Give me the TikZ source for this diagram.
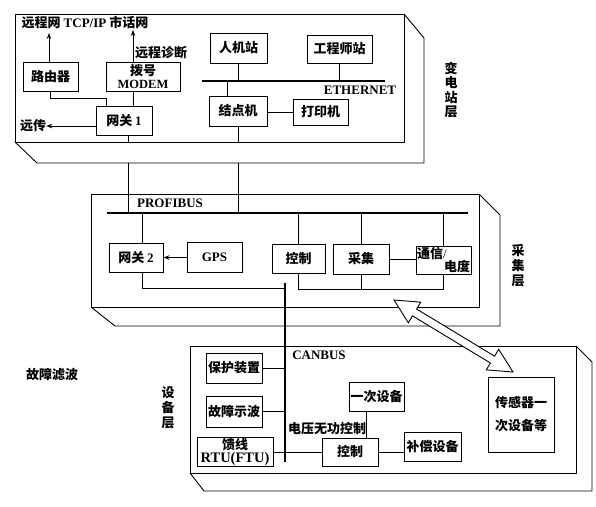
\documentclass[tikz,border=0pt]{standalone}
\usepackage{fontspec}
\setmainfont{Noto Sans CJK SC}
\newfontfamily\latf{Liberation Serif}
\usetikzlibrary{calc,arrows.meta}
\begin{document}
\begin{tikzpicture}[x=1pt,y=-1pt,
  font=\bfseries\fontsize{13}{14}\selectfont,
  every node/.style={inner sep=0.5pt},
  bx/.style 2 args={draw, line width=0.9pt, inner sep=0.5pt, align=center, minimum width=#1, minimum height=#2},
  layer/.style={line width=0.9pt},
  conn/.style={line width=0.8pt},
  bus/.style={line width=2.2pt},
  arr/.style={conn, -{Stealth[length=6pt,width=4.5pt]}},
  vlab/.style={align=center, inner sep=0pt},
  txt/.style={inner sep=0pt},
  lat/.style={font=\latf\bfseries\fontsize{13}{13}\selectfont}]
\useasboundingbox (0,0) rectangle (596,506);

% ---------- layer outlines ----------
\draw[layer] (15,14) rectangle (404,142);
\draw[layer] (15,142) -- (37,163) -- (424,163) -- (424,38) -- (404,14);
\draw[layer] (91,194) rectangle (479,307);
\draw[layer] (91,307) -- (115,326) -- (500,326) -- (500,215) -- (479,194);
\draw[layer] (190,346) rectangle (576,473);
\draw[layer] (190,473) -- (204,491) -- (592,491) -- (592,362) -- (576,346);

% ---------- top layer ----------
\node[bx={55pt}{29pt}] (router) at (50.5,76.5) {路由器};
\node[bx={74pt}{29pt}, font=\bfseries\fontsize{13}{13}\selectfont] (modem) at (143,76.5) {拨号\\{\latf\fontsize{12.5}{13}\selectfont MODEM}};
\node[bx={56pt}{29pt}] (gw1) at (124,120.5) {网关 {\latf 1}};
\node[bx={57pt}{30pt}] (hmi) at (238.5,48) {人机站};
\node[bx={65pt}{28pt}] (eng) at (339.5,49) {工程师站};
\node[bx={58pt}{30pt}] (nodepc) at (238,111) {结点机};
\node[bx={55pt}{26pt}] (printer) at (320.5,112) {打印机};

\node[txt] (wan) at (85,22) {远程网 {\latf TCP/IP} 市话网};
\node[txt] (diag) at (161,53) {远程诊断};
\node[txt] (yc) at (33,126) {远传};
\node[txt, lat] (eth) at (360,90) {ETHERNET};
\node[vlab, font=\bfseries\fontsize{13}{14.5}\selectfont] (l1) at (451,90) {变\\电\\站\\层};

\coordinate (ebL) at (202,81);
\coordinate (ebR) at (385,81);
\draw[bus, line width=1.8pt] (ebL) -- (ebR);

\coordinate (rup) at (49,33);
\coordinate (mup) at (133,30);
\coordinate (rg) at (106,98);
\coordinate (mg) at (133,98);
\coordinate (nb) at (227,81);
\coordinate (tfb) at (0,142);
\coordinate (tbb) at (0,163);
\coordinate (g1x) at (128,0);

\draw[arr] (rup |- router.north) -- (rup);
\draw[arr] (mup |- modem.north) -- (mup);
\draw[conn] (router.south) |- (rg) -- (rg |- gw1.north);
\draw[conn] (mg |- modem.south) -- (mg |- gw1.north);
\draw[arr] (gw1.west |- yc) -- (yc.east);
\draw[conn] (hmi.south) -- (hmi.south |- ebL);
\draw[conn] (eng.south) -- (eng.south |- ebL);
\draw[conn] (nb) -- (nb |- nodepc.north);
\draw[conn] (nodepc.east |- printer) -- (printer.west);

% ---------- middle layer ----------
\coordinate (pbL) at (107,213);
\coordinate (pbR) at (468,213);
\draw[bus] (pbL) -- (pbR);
\node[txt, lat] (pbus) at (170,203) {PROFIBUS};

\draw[conn] (g1x |- gw1.south) -- (g1x |- tfb);
\draw[conn] (g1x |- tbb) -- (g1x |- pbL);
\draw[conn] (nodepc.south) -- (nodepc.south |- tfb);
\draw[conn] (nodepc.south |- tbb) -- (nodepc.south |- pbL);

\node[bx={54pt}{29pt}] (gw2) at (136,257.5) {网关 {\latf 2}};
\node[bx={55pt}{30pt}, lat] (gps) at (214.5,257.5) {GPS};
\node[bx={53pt}{29pt}] (ctrlA) at (298.5,259) {控制};
\node[bx={56pt}{30pt}] (acq) at (361,259) {采集};
\node[draw, line width=0.9pt, minimum width=55pt, minimum height=28pt, text width=53pt, align=left, inner sep=1pt, font=\bfseries\fontsize{13}{13}\selectfont] (comm) at (443.5,260) {通信{\latf\mdseries /}\\\hfill 电度};
\node[vlab, font=\bfseries\fontsize{13}{15}\selectfont] (l2) at (518,266) {采\\集\\层};

\coordinate (canT) at (285,283);
\coordinate (canB) at (285,462);
\coordinate (g2l) at (142,288);
\coordinate (mb) at (443,289);

\draw[conn] (g2l |- pbL) -- (g2l |- gw2.north);
\draw[conn] (g2l |- gw2.south) -- (g2l) -- (g2l -| canT);
\draw[arr] (gps.west) -- (gw2.east);
\draw[conn] (ctrlA.north) -- (ctrlA.north |- pbL);
\draw[conn] (acq.north) -- (acq.north |- pbL);
\draw[conn] (mb |- comm.north) -- (mb |- pbL);
\draw[conn] (ctrlA.south) -- (ctrlA.south |- mb) -- (mb) -- (mb |- comm.south);
\draw[conn] (acq.south) -- (acq.south |- mb);
\draw[conn] (acq.east) -- (acq.east -| comm.west);

% ---------- bottom layer ----------
\draw[bus] (canT) -- (canB);
\node[txt, lat] (cbus) at (319,355) {CANBUS};

\node[bx={56pt}{30pt}] (prot) at (234,368) {保护装置};
\node[bx={56pt}{31pt}] (fault) at (234,411.5) {故障示波};
\node[bx={76pt}{29pt}, font=\bfseries\fontsize{13}{12.5}\selectfont] (rtu) at (235,452) {馈线\\{\latf\fontsize{14.5}{12.5}\selectfont RTU(FTU)}};
\node[bx={55pt}{29pt}] (prim) at (376.5,396.5) {一次设备};
\node[bx={56pt}{28pt}] (ctrlB) at (350,452) {控制};
\node[bx={57pt}{29pt}] (comp) at (432.5,446.5) {补偿设备};
\node[bx={66pt}{75pt}, font=\bfseries\fontsize{13}{23}\selectfont] (sensor) at (521,414.5) {传感器一\\次设备等};
\node[txt] (vq) at (327,429) {电压无功控制};
\node[vlab, font=\bfseries\fontsize{13}{15}\selectfont] (l3) at (168,408) {设\\备\\层};
\node[txt] (gzlb) at (52,375) {故障滤波};

\coordinate (pc) at (366,420);
\draw[conn] (prot.east) -- (prot.east -| canT);
\draw[conn] (fault.east) -- (fault.east -| canT);
\draw[conn] (rtu.east) -- (ctrlB.west);
\draw[conn] (pc |- prim.south) -- (pc |- ctrlB.north);
\draw[conn] (ctrlB.east) -- (ctrlB.east -| comp.west);

% ---------- double hollow arrow ----------
\coordinate (dA) at (394,300);
\coordinate (dB) at (513,372);
\coordinate (h1) at ($(dA)!24pt!(dB)$);
\coordinate (h2) at ($(dB)!24pt!(dA)$);
\draw[line width=0.9pt, fill=white, line join=miter]
  (dA) -- ($(h1)!12pt!90:(dB)$) -- ($(h1)!4pt!90:(dB)$) -- ($(h2)!4pt!-90:(dA)$) -- ($(h2)!12pt!-90:(dA)$)
  -- (dB) -- ($(h2)!12pt!90:(dA)$) -- ($(h2)!4pt!90:(dA)$) -- ($(h1)!4pt!-90:(dB)$) -- ($(h1)!12pt!-90:(dB)$) -- cycle;
\end{tikzpicture}
\end{document}
